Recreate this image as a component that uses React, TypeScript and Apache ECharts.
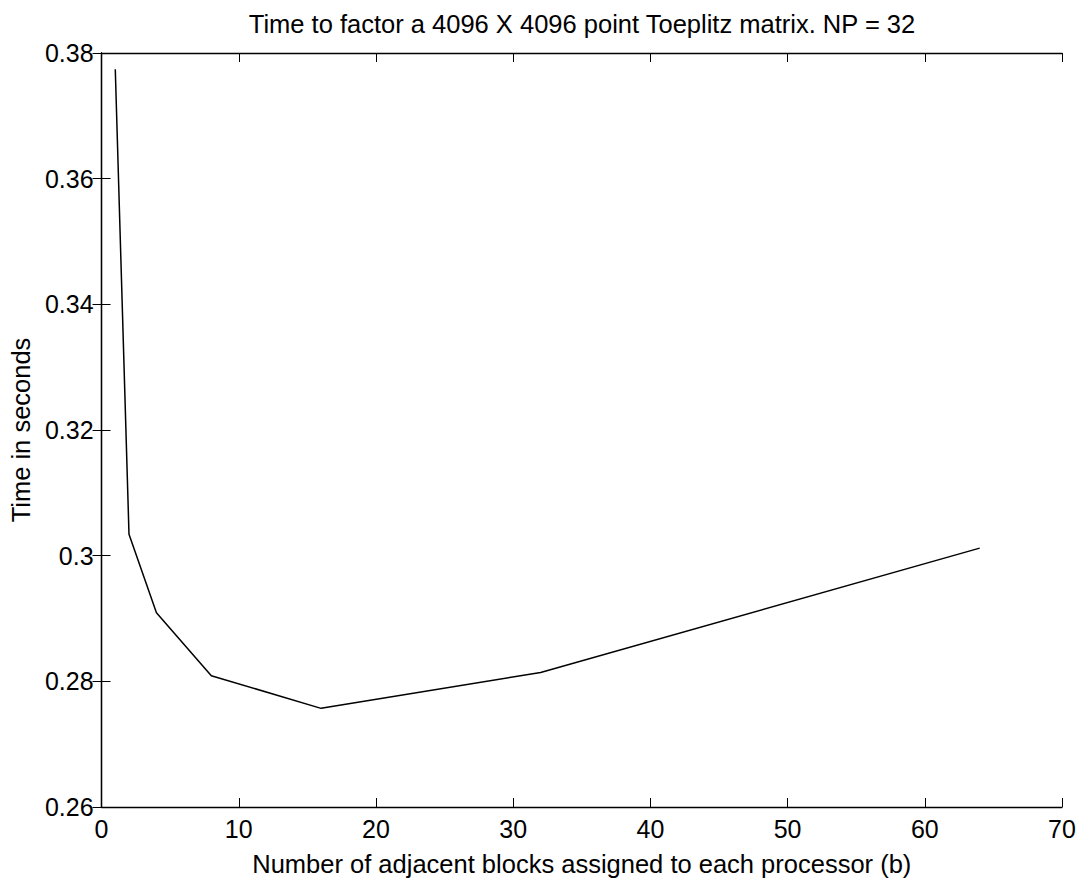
import React, { useEffect, useRef } from "react";
import * as echarts from "echarts";

const blocks = [1, 2, 4, 8, 16, 32, 64];
const seconds = [0.3774, 0.3034, 0.2909, 0.2809, 0.2757, 0.2814, 0.3012];
const titleText = "Time to factor a 4096 X 4096 point Toeplitz matrix. NP = 32";
const xName = "Number of adjacent blocks assigned to each processor (b)";
const yName = "Time in seconds";

export default function App() {
  const ref = useRef<HTMLDivElement>(null);
  useEffect(() => {
    if (!ref.current) return;
    const chart = echarts.init(ref.current, undefined, { renderer: "svg" });
    const font = "Liberation Sans, Arial, Helvetica, sans-serif";
    const tickCommon = {
      axisLine: { show: true, lineStyle: { color: "#000", width: 1.3 } },
      axisTick: { show: true, inside: true, length: 9, lineStyle: { color: "#000", width: 1 } },
      splitLine: { show: false },
    };
    chart.setOption({
      animation: false,
      backgroundColor: "#fff",
      title: {
        text: titleText,
        left: 582,
        textAlign: "center",
        top: 11,
        padding: 0,
        textStyle: { fontFamily: font, fontWeight: "normal", fontSize: 25.5, color: "#000" },
      },
      grid: { left: 98, top: 53, width: 964, height: 761, show: false },
      xAxis: [
        {
          type: "value",
          min: 0,
          max: 70,
          interval: 10,
          position: "bottom",
          name: xName,
          nameLocation: "middle",
          nameGap: 44,
          nameTextStyle: { fontFamily: font, fontSize: 25.5, color: "#000" },
          axisLabel: { fontFamily: font, fontSize: 25, color: "#000", margin: 9 },
          ...tickCommon,
        },
        {
          type: "value",
          min: 0,
          max: 70,
          interval: 10,
          position: "top",
          axisLabel: { show: false },
          ...tickCommon,
        },
      ],
      yAxis: [
        {
          type: "value",
          min: 0.26,
          max: 0.38,
          interval: 0.02,
          position: "left",
          name: yName,
          nameLocation: "middle",
          nameGap: 62,
          nameTextStyle: { fontFamily: font, fontSize: 25.5, color: "#000" },
          axisLabel: { fontFamily: font, fontSize: 25, color: "#000", margin: 8 },
          ...tickCommon,
        },
        {
          type: "value",
          min: 0.26,
          max: 0.38,
          interval: 0.02,
          position: "right",
          axisLabel: { show: false },
          ...tickCommon,
        },
      ],
      series: [
        {
          type: "line",
          data: blocks.map((b, i) => [b, seconds[i]]),
          showSymbol: false,
          lineStyle: { color: "#000", width: 1.5 },
          xAxisIndex: 0,
          yAxisIndex: 0,
        },
      ],
    });
    return () => chart.dispose();
  }, []);
  return (
    <div
      ref={ref}
      style={{ position: "fixed", left: 0, top: 0, width: 1084, height: 882, background: "#fff" }}
    />
  );
}
